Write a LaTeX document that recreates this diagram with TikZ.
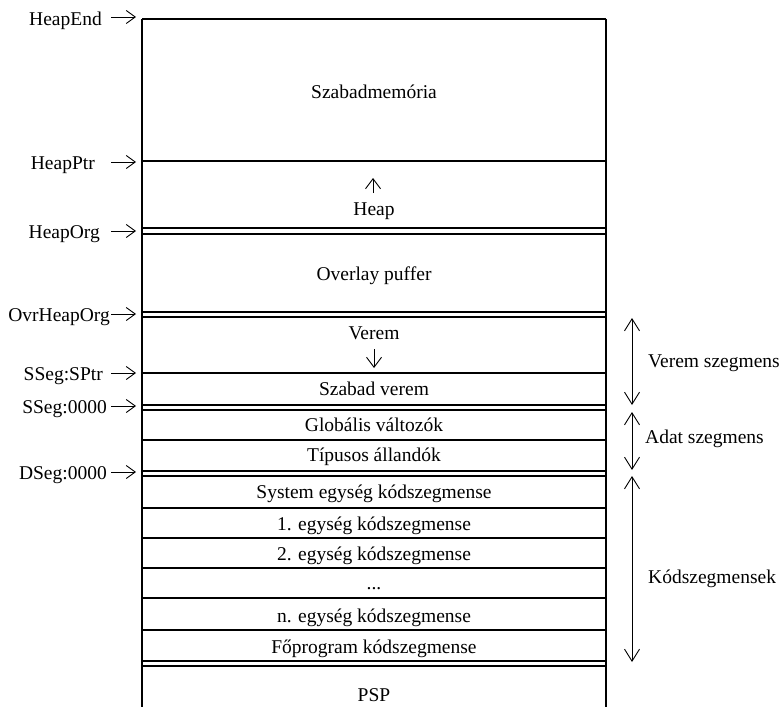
\documentclass[tikz,border=0pt]{standalone}
\usepackage{fontspec}
\setmainfont{Liberation Serif}
\usetikzlibrary{arrows.meta}
\begin{document}
\begin{tikzpicture}[x=1bp,y=-1bp,
  font=\fontsize{19.5bp}{22bp}\selectfont,
  hl/.style={line width=1.2bp},
  vl/.style={line width=1.8bp},
  lbl/.style={anchor=base east, inner sep=0pt},
  txt/.style={anchor=base, inner sep=0pt},
  rlbl/.style={anchor=base west, inner sep=0pt},
  ptr/.style={line width=0.9bp, -{Straight Barb[length=9bp,width=13bp]}},
  growarrow/.style={line width=0.9bp, -{Straight Barb[length=10bp,width=15bp]}},
  spanarrow/.style={line width=0.9bp, {Straight Barb[length=12bp,width=15bp]}-{Straight Barb[length=12bp,width=15bp]}}]
\useasboundingbox (0,0) rectangle (781,707);
% box outline
\coordinate (tl) at (142,19);
\coordinate (tr) at (606,19);
\coordinate (bl) at (142,707);
\coordinate (br) at (606,707);
\draw[hl] (tl) -- (tr);
\draw[vl] (tl) -- (bl);
\draw[vl] (tr) -- (br);
% horizontal separators
\foreach \yy in {161,228,234,312,317,373,405,410,440,471,476,508,538,568,598,630,661,666}
  \draw[hl] (142,\yy) -- (606,\yy);
% contents
\node[txt] (szm) at (374,99) {Szabadmemória};
\coordinate (hpa) at (373,193);
\coordinate (hpb) at (373,178);
\draw[growarrow] (hpa) -- (hpb);
\node[txt] (heap) at (374,215) {Heap};
\node[txt] (ovl) at (374,280) {Overlay puffer};
\node[txt] (verem) at (374,339) {Verem};
\coordinate (vra) at (374,349);
\coordinate (vrb) at (374,368);
\draw[growarrow] (vra) -- (vrb);
\node[txt] (szv) at (374,395) {Szabad verem};
\node[txt] (glob) at (374,431) {Globális változók};
\node[txt] (tip) at (374,461) {Típusos állandók};
\node[txt] (sys) at (374,498) {System egység kódszegmense};
\node[txt] (u1) at (374,530) {1. egység kódszegmense};
\node[txt] (u2) at (374,560) {2. egység kódszegmense};
\node[txt] (dots) at (374,589) {...};
\node[txt] (un) at (374,622) {n. egység kódszegmense};
\node[txt] (fp) at (374,653) {Főprogram kódszegmense};
\node[txt] (psp) at (374,701) {PSP};
% left pointer labels
\node[lbl] (l1) at (102,26) {HeapEnd};
\node[lbl] (l2) at (95,169) {HeapPtr};
\node[lbl] (l3) at (100,238) {HeapOrg};
\node[lbl] (l4) at (110,321) {OvrHeapOrg};
\node[lbl] (l5) at (103,380) {SSeg:SPtr};
\node[lbl] (l6) at (107,413) {SSeg:0000};
\node[lbl] (l7) at (107,479) {DSeg:0000};
\foreach \yy [count=\i] in {17,162,231,314,373,406,472}{
  \coordinate (ps\i) at (111,\yy);
  \coordinate (pe\i) at (136,\yy);
  \draw[ptr] (ps\i) -- (pe\i);
}
% right span arrows
\coordinate (va) at (632,318);
\coordinate (vb) at (632,405);
\coordinate (aa) at (632,412);
\coordinate (ab) at (632,470);
\coordinate (ka) at (632,476);
\coordinate (kb) at (632,662);
\draw[spanarrow] (va) -- (vb);
\draw[spanarrow] (aa) -- (ab);
\draw[spanarrow] (ka) -- (kb);
\node[rlbl] (rv) at (648,367) {Verem szegmens};
\node[rlbl] (ra) at (645,443) {Adat szegmens};
\node[rlbl] (rk) at (648,583) {Kódszegmensek};
\end{tikzpicture}
\end{document}
